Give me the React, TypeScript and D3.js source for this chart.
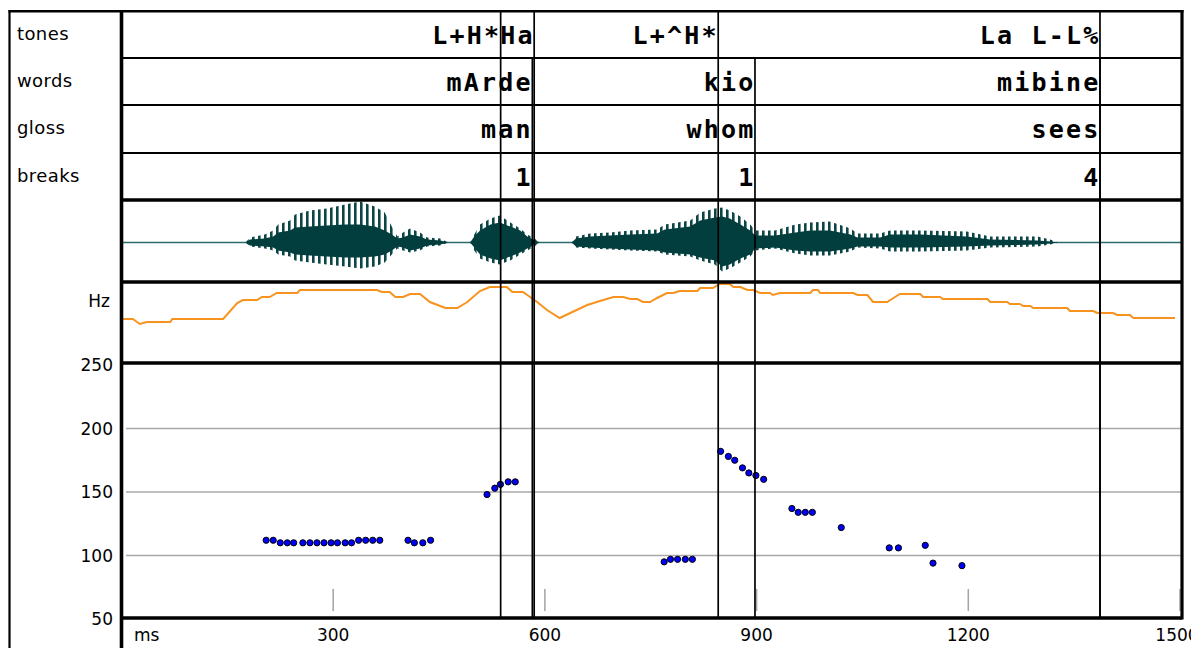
import React from 'react';
import * as d3 from 'd3';

const W = 1191;
const H = 648;

// ---- tiers ----
const TIER_NAMES = ['tones', 'words', 'gloss', 'breaks'];
const TONE_TIMES = [537.3, 584.8, 845.6, 1386.6];
const TONE_LABELS = ['L+H*', 'Ha', 'L+^H*', 'La L-L%'];
const WORD_TIMES = [582.2, 897.7, 1386.6];
const WORD_LABELS = ['mArde', 'kio', 'mibine'];
const GLOSS_LABELS = ['man', 'whom', 'sees'];
const BREAK_LABELS = ['1', '1', '4'];

// ---- axes ----
const X_TICKS = [300, 600, 900, 1200, 1500];
const Y_TICKS = [50, 100, 150, 200, 250];
const Y_GRID = [100, 150, 200];

// ---- waveform envelope (amplitude units) ----
const WAVE_T = [176, 182, 203, 215, 222, 239, 246, 267, 291, 317, 338, 359, 373, 383, 391, 399, 409, 423, 433, 452, 463, 494, 500, 508, 523, 536, 551, 565, 575, 583, 593, 638, 644, 664, 692, 721, 759, 770, 806, 820, 841, 851, 862, 877, 891, 898, 926, 955, 976, 1004, 1033, 1043, 1075, 1089, 1132, 1198, 1231, 1298, 1316, 1327];
const BODY_UP = [0, 3, 4, 6, 10, 12, 15, 16, 17, 18, 18, 16, 12, 8, 4, 5, 8, 6, 3, 2, 0, 0, 6, 12, 18, 20, 16, 12, 6, 3, 0, 0, 4, 6, 7, 8, 9, 13, 16, 22, 25, 26, 24, 18, 12, 7, 7, 10, 12, 12, 8, 5, 5, 8, 8, 6, 3, 2, 1, 0];
const BODY_DOWN = [0, 3, 4, 5, 8, 10, 12, 13, 14, 15, 15, 14, 12, 8, 4, 5, 8, 6, 3, 2, 0, 0, 5, 12, 16, 18, 14, 10, 6, 3, 0, 0, 4, 5, 6, 7, 8, 10, 12, 15, 18, 24, 22, 16, 12, 6, 5, 8, 9, 9, 6, 4, 4, 5, 5, 4, 3, 2, 1, 0];
const SPIKE_UP = [0, 5, 8, 12, 18, 22, 28, 32, 34, 38, 41, 36, 30, 16, 6, 10, 14, 10, 5, 4, 0, 0, 8, 18, 24, 27, 20, 14, 8, 5, 0, 0, 6, 9, 10, 12, 13, 18, 22, 30, 34, 35, 32, 26, 18, 12, 12, 18, 20, 21, 14, 9, 9, 12, 12, 11, 6, 6, 3, 0];
const SPIKE_DOWN = [0, 4, 6, 8, 12, 14, 18, 20, 22, 24, 26, 24, 20, 12, 6, 8, 10, 8, 4, 3, 0, 0, 8, 16, 20, 22, 18, 12, 8, 5, 0, 0, 5, 6, 7, 8, 9, 12, 14, 18, 22, 29, 26, 20, 14, 8, 6, 11, 13, 13, 9, 5, 6, 9, 9, 8, 5, 4, 2, 0];

// ---- contour (orange) ----
const CONTOUR_T = [0, 0, 16, 26, 36, 69, 72, 144, 164, 172, 192, 199, 210, 220, 249, 253, 362, 369, 380, 388, 399, 409, 423, 437, 459, 476, 490, 508, 522, 546, 554, 569, 575, 589, 603, 621, 636, 660, 678, 697, 711, 721, 731, 739, 749, 759, 773, 782, 791, 816, 820, 838, 848, 862, 867, 877, 887, 895, 905, 919, 923, 933, 976, 980, 987, 990, 1037, 1043, 1057, 1065, 1085, 1094, 1103, 1132, 1136, 1160, 1164, 1227, 1231, 1255, 1259, 1273, 1278, 1288, 1292, 1340, 1344, 1377, 1383, 1405, 1411, 1429, 1434, 1493];
const CONTOUR_V = [1, 44, 44, 39, 41, 41, 44, 44, 60, 63, 63, 66, 66, 70, 70, 73, 73, 71, 71, 66, 66, 69, 69, 61, 55, 55, 61, 72, 76, 76, 71, 71, 68, 61, 53, 45, 50, 58, 62, 66, 66, 64, 64, 61, 61, 65, 70, 70, 72, 72, 75, 75, 79, 79, 76, 76, 73, 73, 70, 70, 68, 70, 70, 73, 73, 70, 70, 68, 68, 61, 61, 65, 69, 69, 66, 66, 64, 64, 61, 61, 59, 59, 57, 57, 55, 55, 52, 52, 50, 50, 48, 48, 45, 45];

// ---- pitch points (Hz) ----
const PITCH_T = [205, 215, 225, 235, 244, 257, 267, 277, 287, 297, 306, 317, 326, 336, 346, 356, 366, 406, 415, 427, 438, 518, 529, 537, 548, 558, 769, 778, 788, 799, 809, 849, 860, 869, 880, 889, 899, 910, 950, 959, 969, 979, 1020, 1088, 1101, 1139, 1150, 1191];
const PITCH_HZ = [112, 112, 110, 110, 110, 110, 110, 110, 110, 110, 110, 110, 110, 112, 112, 112, 112, 112, 110, 110, 112, 148, 153, 156, 158, 158, 95, 97, 97, 97, 97, 182, 178, 175, 169, 165, 163, 160, 137, 134, 134, 134, 122, 106, 106, 108, 94, 92];

const MONO = '"DejaVu Sans Mono", "Liberation Mono", monospace';
const SANS = '"DejaVu Sans", "Liberation Sans", sans-serif';

export default function App() {
  const x = d3.scaleLinear().domain([0, 1500]).range([121.5, 1180]);
  const yHz = d3.scaleLinear().domain([50, 250]).range([619, 365]);
  const yAmp = d3.scaleLinear().domain([-40, 40]).range([282.5, 202.5]);
  const yCon = d3.scaleLinear().domain([0, 80]).range([363, 283]);

  const rowTops = [11, 58, 105, 153];
  const panelLines = [200, 282, 363, 618];
  const xL = 121.5;
  const xR = 1182;

  const idx = WAVE_T.map((_, i) => i);
  const spikeArea = d3
    .area<number>()
    .x((i) => x(WAVE_T[i]))
    .y0((i) => yAmp(-SPIKE_DOWN[i]))
    .y1((i) => yAmp(SPIKE_UP[i]))
    .curve(d3.curveLinear)(idx) as string;
  const bodyArea = d3
    .area<number>()
    .x((i) => x(WAVE_T[i]))
    .y0((i) => yAmp(-BODY_DOWN[i]))
    .y1((i) => yAmp(BODY_UP[i]))
    .curve(d3.curveLinear)(idx) as string;

  const contour = d3
    .line<number>()
    .x((i) => x(CONTOUR_T[i]))
    .y((i) => yCon(CONTOUR_V[i]))(CONTOUR_T.map((_, i) => i)) as string;

  const markText = (t: number, label: string, rowTop: number, key: string) => (
    <text
      key={key}
      x={x(t) + 0.5}
      y={rowTop + 33}
      textAnchor="end"
      fontFamily={MONO}
      fontWeight="bold"
      fontSize={25}
      letterSpacing={2.2}
      fill="#000"
    >
      {label}
    </text>
  );

  return (
    <svg
      width={W}
      height={H}
      style={{ position: 'absolute', left: 0, top: 0, display: 'block', background: '#fff' }}
    >
      <defs>
        <pattern id="spk" width={6} height={10} patternUnits="userSpaceOnUse">
          <rect x={0} y={0} width={2.6} height={10} fill="#0b4545" />
        </pattern>
      </defs>
      <rect x={0} y={0} width={W} height={H} fill="#fff" />

      {/* grid lines */}
      {Y_GRID.map((v) => (
        <line key={'g' + v} x1={126} x2={xR} y1={yHz(v)} y2={yHz(v)} stroke="#a8a8a8" strokeWidth={1.6} />
      ))}
      {/* x tick marks */}
      {X_TICKS.map((t) => (
        <line key={'xt' + t} x1={x(t)} x2={x(t)} y1={589} y2={611} stroke="#a8a8a8" strokeWidth={1.6} />
      ))}

      {/* waveform */}
      <line x1={xL} x2={xR} y1={yAmp(0)} y2={yAmp(0)} stroke="#2d6b6b" strokeWidth={1.6} />
      <path d={spikeArea} fill="url(#spk)" />
      <path d={bodyArea} fill="#033e3e" />

      {/* contour */}
      <path d={contour} fill="none" stroke="#f7931e" strokeWidth={2} />

      {/* pitch points */}
      {PITCH_T.map((t, i) => (
        <circle key={'p' + i} cx={x(t)} cy={yHz(PITCH_HZ[i])} r={3.1} fill="#0000ff" stroke="#000" strokeWidth={1} />
      ))}

      {/* frame */}
      <line x1={9.5} x2={9.5} y1={10} y2={H} stroke="#000" strokeWidth={2.2} />
      <line x1={8.5} x2={xR + 1.5} y1={11.3} y2={11.3} stroke="#000" strokeWidth={2.4} />
      <line x1={xL} x2={xL} y1={10} y2={H} stroke="#000" strokeWidth={3.6} />
      <line x1={xR} x2={xR} y1={10} y2={619.5} stroke="#000" strokeWidth={3.2} />
      {rowTops.slice(1).map((y) => (
        <line key={'r' + y} x1={xL} x2={xR} y1={y} y2={y} stroke="#000" strokeWidth={2} />
      ))}
      {panelLines.map((y) => (
        <line key={'pl' + y} x1={xL} x2={xR} y1={y} y2={y} stroke="#000" strokeWidth={3.4} />
      ))}

      {/* tone boundaries */}
      {TONE_TIMES.map((t, i) => (
        <line key={'tl' + i} x1={x(t)} x2={x(t)} y1={11} y2={618} stroke="#000" strokeWidth={1.7} />
      ))}
      {/* word boundaries */}
      {WORD_TIMES.map((t, i) => (
        <line key={'wl' + i} x1={x(t)} x2={x(t)} y1={58} y2={618} stroke="#000" strokeWidth={1.7} />
      ))}

      {/* tier labels */}
      {TIER_NAMES.map((n, i) => (
        <text key={n} x={17} y={rowTops[i] + 28.5} fontFamily={SANS} fontSize={18} letterSpacing={0.4} fill="#000">
          {n}
        </text>
      ))}

      {/* tier marks */}
      {TONE_TIMES.map((t, i) => markText(t, TONE_LABELS[i], rowTops[0], 'tt' + i))}
      {WORD_TIMES.map((t, i) => markText(t, WORD_LABELS[i], rowTops[1], 'wt' + i))}
      {WORD_TIMES.map((t, i) => markText(t, GLOSS_LABELS[i], rowTops[2], 'gt' + i))}
      {WORD_TIMES.map((t, i) => markText(t, BREAK_LABELS[i], rowTops[3], 'bt' + i))}

      {/* y axis labels */}
      <text x={110} y={307} textAnchor="end" fontFamily={SANS} fontSize={17} fill="#000">Hz</text>
      {Y_TICKS.map((v) => (
        <text key={'yl' + v} x={113} y={yHz(v) + 6.3} textAnchor="end" fontFamily={SANS} fontSize={17} fill="#000">
          {v}
        </text>
      ))}

      {/* x axis labels */}
      <text x={134} y={641} fontFamily={SANS} fontSize={17} fill="#000">ms</text>
      {X_TICKS.map((t) => (
        <text key={'xl' + t} x={x(t) - (t === 1500 ? 3 : 0)} y={641} textAnchor="middle" fontFamily={SANS} fontSize={17} fill="#000">
          {t}
        </text>
      ))}
    </svg>
  );
}
